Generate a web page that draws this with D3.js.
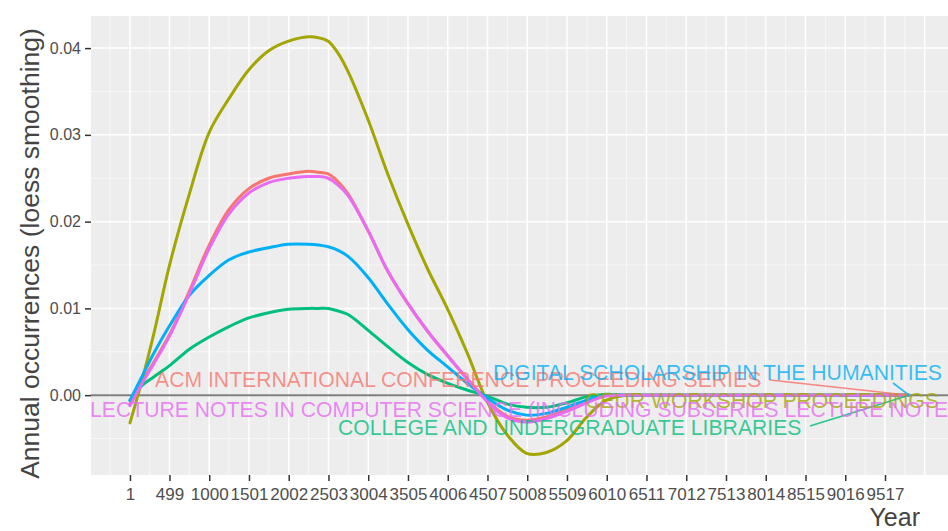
<!DOCTYPE html>
<html>
<head>
<meta charset="utf-8">
<script src="https://cdn.jsdelivr.net/npm/d3@7"></script>
<style>
  html, body { margin: 0; padding: 0; background: #ffffff; }
  svg { display: block; }
  text { font-family: "Liberation Sans", Arial, sans-serif; }
</style>
</head>
<body>
<svg id="chart" width="948" height="531"></svg>
<script>
// Sampled positions along the smoothed curves
const years = [1, 150, 300, 500, 750, 1000, 1250, 1500, 1750, 2000, 2250, 2375, 2500, 2625, 2750, 3000,
  3250, 3500, 3750, 4000, 4250, 4500, 4750, 5000, 5250, 5500, 5750, 6000, 6250, 6500,
  7000, 8000, 9000, 9820];

// Loess-smoothed annual occurrences per venue
const acm = [-0.0010, 0.0015, 0.0038, 0.0070, 0.0120, 0.0173, 0.0214, 0.0238, 0.0250, 0.0255,
  0.0258, 0.0257, 0.0255, 0.0246, 0.0232, 0.0190, 0.0143, 0.0106, 0.0074, 0.0046, 0.0019, -0.0006,
  -0.0024, -0.0029, -0.0025, -0.0017, -0.0008, 0.0000, 0.0000, 0.0000, 0.0000, 0.0000, 0.0000, 0.0000];
const ceur = [-0.0032, 0.0016, 0.0070, 0.0150, 0.0232, 0.0303, 0.0342, 0.0375, 0.0397, 0.0408,
  0.0413, 0.0412, 0.0408, 0.0394, 0.0373, 0.0318, 0.0255, 0.0198, 0.0146, 0.0100, 0.0049, -0.0007,
  -0.0045, -0.0067, -0.0066, -0.0053, -0.0026, -0.0006, 0.0000, 0.0000, 0.0000, 0.0000, 0.0000, 0.0000];
const college = [-0.0006, 0.0011, 0.0021, 0.0034, 0.0053, 0.0067, 0.0079, 0.0089, 0.0095, 0.0099,
  0.0100, 0.0100, 0.0100, 0.0097, 0.0093, 0.0075, 0.0056, 0.0038, 0.0024, 0.0014, 0.0006, -0.0001,
  -0.0010, -0.0014, -0.0014, -0.0009, -0.0002, 0.0001, 0.0000, 0.0000, 0.0000, 0.0000, 0.0000, 0.0000];
const digital = [-0.0006, 0.0021, 0.0048, 0.0080, 0.0115, 0.0138, 0.0156, 0.0165, 0.0170, 0.0174,
  0.0174, 0.0173, 0.0171, 0.0167, 0.0160, 0.0136, 0.0105, 0.0076, 0.0052, 0.0033, 0.0014, -0.0003,
  -0.0017, -0.0023, -0.0021, -0.0014, -0.0006, 0.0000, 0.0000, 0.0000, 0.0000, 0.0000, 0.0000, 0.0000];
const lecture = [-0.0012, 0.0013, 0.0036, 0.0068, 0.0117, 0.0169, 0.0209, 0.0233, 0.0245, 0.0250,
  0.0252, 0.0252, 0.0250, 0.0242, 0.0230, 0.0190, 0.0143, 0.0106, 0.0074, 0.0046, 0.0019, -0.0007,
  -0.0026, -0.0031, -0.0027, -0.0019, -0.0009, -0.0001, 0.0000, 0.0000, 0.0000, 0.0000, 0.0000, 0.0000];

const venues = [
  "ACM INTERNATIONAL CONFERENCE PROCEEDING SERIES",
  "CEUR WORKSHOP PROCEEDINGS",
  "COLLEGE AND UNDERGRADUATE LIBRARIES",
  "DIGITAL SCHOLARSHIP IN THE HUMANITIES",
  "LECTURE NOTES IN COMPUTER SCIENCE (INCLUDING SUBSERIES LECTURE NOTES IN ARTIFICIAL INTELLIGENCE AND LECTURE NOTES IN BIOINFORMATICS)"
];
const seriesValues = [acm, ceur, college, digital, lecture];

// Axis ticks
const xTicks = [1, 499, 1000, 1501, 2002, 2503, 3004, 3505, 4006, 4507, 5008, 5509, 6010,
  6511, 7012, 7513, 8014, 8515, 9016, 9517];
const yTicks = [0.00, 0.01, 0.02, 0.03, 0.04];

// ---- styling / layout ----
const colors = ["#F8766D", "#A3A500", "#00BF7D", "#00B0F6", "#E76BF3"];
// repelled label placement (text start x, baseline y, optional leader start)
const labelLayout = [
  { x: 155, y: 387, seg: [770, 380] },
  { x: 585, y: 408, seg: null },
  { x: 338, y: 435, seg: [810, 426] },
  { x: 493, y: 380, seg: [893, 383] },
  { x: 90,  y: 417, seg: null }
];

const panel = { left: 91, right: 948, top: 16, bottom: 475 };
const svg = d3.select("#chart");

const xExtent = d3.extent(years);
const xPad = (xExtent[1] - xExtent[0]) * 0.05;
const x = d3.scaleLinear()
  .domain([xExtent[0] - xPad, xExtent[1] + xPad])
  .range([panel.left, panel.right]);

const y = d3.scaleLinear()
  .domain([-0.0092, 0.0437])
  .range([panel.bottom, panel.top]);

// panel background
svg.append("rect")
  .attr("x", panel.left).attr("y", panel.top)
  .attr("width", panel.right - panel.left).attr("height", panel.bottom - panel.top)
  .attr("fill", "#EDEDED");

const grid = svg.append("g");
// vertical grid: minor midpoints (extended by one step each side), then majors
const step = xTicks[2] - xTicks[1];
const xMinor = [xTicks[0] - (xTicks[1] - xTicks[0]) / 2];
for (let i = 0; i < xTicks.length - 1; i++) xMinor.push((xTicks[i] + xTicks[i + 1]) / 2);
xMinor.push(xTicks[xTicks.length - 1] + step / 2);
const xMajorGrid = xTicks.concat([xTicks[xTicks.length - 1] + step]);

const inX = v => x(v) >= panel.left && x(v) <= panel.right;
grid.selectAll(".vminor").data(xMinor.filter(inX)).join("line")
  .attr("x1", d => x(d)).attr("x2", d => x(d))
  .attr("y1", panel.top).attr("y2", panel.bottom)
  .attr("stroke", "#FAFAFA").attr("stroke-width", 0.8);
const yMinor = [-0.005, 0.005, 0.015, 0.025, 0.035];
grid.selectAll(".hminor").data(yMinor).join("line")
  .attr("x1", panel.left).attr("x2", panel.right)
  .attr("y1", d => y(d)).attr("y2", d => y(d))
  .attr("stroke", "#FAFAFA").attr("stroke-width", 0.8);
grid.selectAll(".vmajor").data(xMajorGrid.filter(inX)).join("line")
  .attr("x1", d => x(d)).attr("x2", d => x(d))
  .attr("y1", panel.top).attr("y2", panel.bottom)
  .attr("stroke", "#FFFFFF").attr("stroke-width", 1.5);
grid.selectAll(".hmajor").data(yTicks).join("line")
  .attr("x1", panel.left).attr("x2", panel.right)
  .attr("y1", d => y(d)).attr("y2", d => y(d))
  .attr("stroke", "#FFFFFF").attr("stroke-width", 1.5);

// zero reference line
svg.append("line")
  .attr("x1", panel.left).attr("x2", panel.right)
  .attr("y1", y(0)).attr("y2", y(0))
  .attr("stroke", "#7F7F7F").attr("stroke-width", 2);

// smoothed curves
const line = d3.line()
  .x((d, i) => x(years[i]))
  .y(d => y(d))
  .curve(d3.curveCatmullRom.alpha(0.5));

svg.append("g").selectAll("path").data(seriesValues).join("path")
  .attr("d", d => line(d))
  .attr("fill", "none")
  .attr("stroke", (d, i) => colors[i])
  .attr("stroke-width", 3)
  .attr("stroke-linejoin", "round")
  .attr("stroke-linecap", "round");

// axes
const xAxis = d3.axisBottom(x).tickValues(xTicks).tickFormat(d3.format("d"))
  .tickSize(6).tickPadding(4);
const gx = svg.append("g").attr("transform", `translate(0,${panel.bottom})`).call(xAxis);
gx.select(".domain").remove();
gx.selectAll(".tick line").attr("stroke", "#333333").attr("stroke-width", 1.5);
gx.selectAll(".tick text")
  .attr("fill", "#4D4D4D").attr("font-size", "17px")
  .attr("font-family", "'Liberation Sans', Arial, sans-serif")
  .attr("dy", "0.9em");

const yAxis = d3.axisLeft(y).tickValues(yTicks).tickFormat(d3.format(".2f"))
  .tickSize(6).tickPadding(4);
const gy = svg.append("g").attr("transform", `translate(${panel.left},0)`).call(yAxis);
gy.select(".domain").remove();
gy.selectAll(".tick line").attr("stroke", "#333333").attr("stroke-width", 1.5);
gy.selectAll(".tick text")
  .attr("fill", "#4D4D4D").attr("font-size", "16px")
  .attr("font-family", "'Liberation Sans', Arial, sans-serif");

// axis titles
svg.append("text")
  .attr("transform", `translate(39,${(panel.top + panel.bottom) / 2 + 8}) rotate(-90)`)
  .attr("text-anchor", "middle")
  .attr("font-size", "26.5px")
  .attr("fill", "#444444")
  .text("Annual occurrences (loess smoothing)");

svg.append("text")
  .attr("x", 920).attr("y", 526)
  .attr("text-anchor", "end")
  .attr("font-size", "25px")
  .attr("fill", "#444444")
  .text("Year");

// repelled venue labels with leader segments to each curve's last point
const labels = svg.append("g");
venues.forEach((name, i) => {
  const L = labelLayout[i];
  const vals = seriesValues[i];
  if (L.seg) {
    labels.append("line")
      .attr("x1", L.seg[0]).attr("y1", L.seg[1])
      .attr("x2", x(years[years.length - 1]))
      .attr("y2", y(vals[vals.length - 1]))
      .attr("stroke", colors[i]).attr("stroke-width", 1.6)
      .attr("stroke-opacity", 0.85);
  }
});
venues.forEach((name, i) => {
  const L = labelLayout[i];
  labels.append("text")
    .attr("x", L.x).attr("y", L.y)
    .attr("font-size", "21.2px")
    .attr("fill", colors[i])
    .attr("fill-opacity", 0.78)
    .text(name);
});
</script>
</body>
</html>
